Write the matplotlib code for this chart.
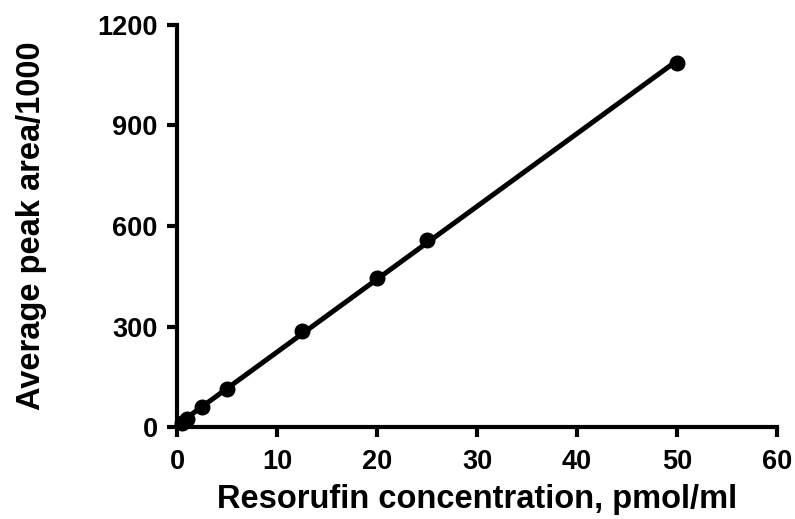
import numpy as np
import matplotlib
matplotlib.use("Agg")
import matplotlib.pyplot as plt

plt.rcParams["font.family"] = ["Liberation Sans", "DejaVu Sans"]
plt.rcParams["font.weight"] = "bold"

conc = [0.5, 1.0, 2.5, 5.0, 12.5, 20.0, 25.0, 50.0]
peak_area = [11, 23, 60, 115, 286, 446, 557, 1086]
x_ticks = [0, 10, 20, 30, 40, 50, 60]
y_ticks = [0, 300, 600, 900, 1200]

# linear fit drawn across the data range
slope, icpt = np.polyfit(conc, peak_area, 1)
xf = np.array([min(conc), max(conc)])

fig = plt.figure(figsize=(7.95, 5.19), dpi=100)
ax = fig.add_axes([0.2226, 0.177, 0.7548, 0.775])
ax.plot(xf, slope * xf + icpt, color="black", lw=3.6, solid_capstyle="butt", zorder=2)
ax.plot(conc, peak_area, "o", color="black", ms=10.5, zorder=3, clip_on=False)

ax.set_xlim(0, 60)
ax.set_ylim(0, 1200)
ax.set_xticks(x_ticks)
ax.set_yticks(y_ticks)
for s in ("top", "right"):
    ax.spines[s].set_visible(False)
for s in ("left", "bottom"):
    ax.spines[s].set_linewidth(3.0)
ax.tick_params(width=3.0, length=7.5, labelsize=19.5, pad=6.5)
ax.tick_params(axis="x", pad=8)
for lab in ax.get_xticklabels() + ax.get_yticklabels():
    lab.set_fontweight("bold")

ax.set_xlabel("Resorufin concentration, pmol/ml", fontsize=23.5, fontweight="bold", labelpad=7)
ax.set_ylabel("Average peak area/1000", fontsize=23.5, fontweight="bold", labelpad=36)

fig.savefig("out.png", dpi=100)
